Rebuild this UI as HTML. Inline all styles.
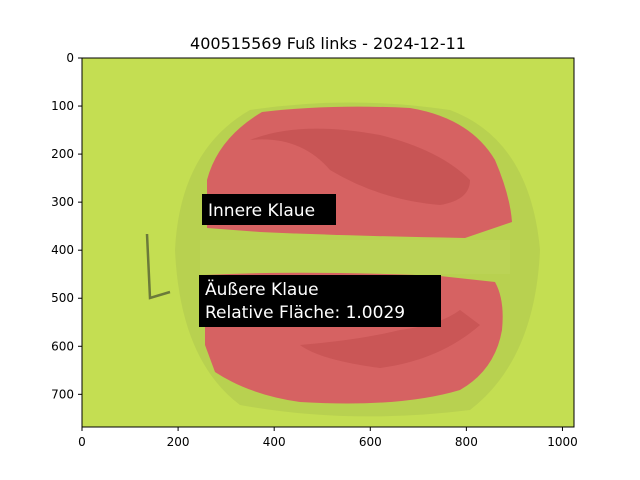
<!DOCTYPE html>
<html><head><meta charset="utf-8"><style>
body{margin:0;background:#fff;width:640px;height:480px;overflow:hidden;font-family:"DejaVu Sans","Liberation Sans",sans-serif}
svg{position:absolute;left:0;top:0}
</style></head><body>
<svg width="640" height="480" viewBox="0 0 640 480">
<defs>
<clipPath id="ax"><rect x="82" y="58" width="492" height="369"/></clipPath>
</defs>
<text x="328" y="49" text-anchor="middle" font-size="16" fill="#000">400515569 Fuß links - 2024-12-11</text>
<g clip-path="url(#ax)">
<rect x="82" y="58" width="492" height="369" fill="#c4de52"/>
<path d="M175 250 Q180 150 250 110 Q350 95 450 110 Q530 140 540 250 Q535 360 470 410 Q350 425 240 405 Q180 360 175 250 Z" fill="#aac24e" opacity="0.45"/>
<rect x="200" y="240" width="310" height="34" fill="#bcd35a" opacity="0.6"/>
<path d="M147 234 L150 298 L170 292" stroke="#6b7a3a" stroke-width="2.5" fill="none"/>
<path d="M207 228 L207 180 Q218 138 262 112 Q330 104 410 108 Q470 118 495 160 Q510 195 512 222 L465 238 Q350 236 260 232 Z" fill="#d66262"/>
<path d="M250 140 Q300 135 330 170 Q380 200 440 205 Q470 200 470 180 Q440 150 380 135 Q300 120 250 140 Z" fill="#bd4a4a" opacity="0.55"/>
<path d="M205 345 L205 275 Q300 270 440 276 L495 282 Q505 300 502 330 Q495 370 460 390 Q400 408 300 402 Q250 395 215 372 Z" fill="#d66262"/>
<path d="M300 345 Q360 340 400 330 Q440 325 460 310 L480 325 Q440 360 380 368 Q320 360 300 345 Z" fill="#bd4a4a" opacity="0.5"/>
</g>
<rect x="82" y="58" width="492" height="369" fill="none" stroke="#000" stroke-width="1"/>
<rect x="202" y="194" width="134" height="31" fill="#000"/>
<text x="208" y="216" font-size="17" fill="#fff">Innere Klaue</text>
<rect x="199" y="275" width="242" height="52" fill="#000"/>
<text x="205" y="295" font-size="17" fill="#fff">Äußere Klaue</text>
<text x="205" y="318" font-size="17" fill="#fff">Relative Fläche: 1.0029</text>
<g id="xt" font-size="12" text-anchor="middle"></g>
<g id="yt" font-size="12" text-anchor="end"></g>
</svg>
<script>
const xTicks=[0,200,400,600,800,1000];
const yTicks=[0,100,200,300,400,500,600,700];
const sx=v=>82+v*492/1024, sy=v=>58+v*369/768;
const ns="http://www.w3.org/2000/svg";
const xg=document.getElementById('xt'), yg=document.getElementById('yt');
xTicks.forEach(t=>{
 const l=document.createElementNS(ns,'line');
 
 
 l.setAttribute('x1',sx(t));l.setAttribute('x2',sx(t));l.setAttribute('y1',427);l.setAttribute('y2',431);l.setAttribute('stroke','#000');
 xg.appendChild(l);
 const s=document.createElementNS(ns,'text');
 
 
 s.setAttribute('x',sx(t));s.setAttribute('y',446);s.textContent=t;
 xg.appendChild(s);
});
yTicks.forEach(t=>{
 const l=document.createElementNS(ns,'line');
 
 
 l.setAttribute('x1',78);l.setAttribute('x2',82);l.setAttribute('y1',sy(t));l.setAttribute('y2',sy(t));l.setAttribute('stroke','#000');
 yg.appendChild(l);
 const s=document.createElementNS(ns,'text');
 
 
 s.setAttribute('x',74);s.setAttribute('y',sy(t)+4);s.textContent=t;
 yg.appendChild(s);
});
</script>
</body></html>
